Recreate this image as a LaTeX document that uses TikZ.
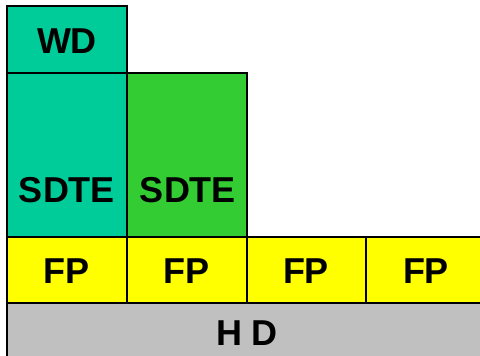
\documentclass[tikz,border=0pt]{standalone}
\usepackage{fontspec}
\setmainfont{Liberation Sans}
\definecolor{teal1}{HTML}{00CC99}
\definecolor{green1}{HTML}{33CC33}
\definecolor{yel1}{HTML}{FFFF00}
\definecolor{grey1}{HTML}{C0C0C0}
\begin{document}
\begin{tikzpicture}[x=1pt,y=-1pt,
  cell/.style={draw=black,line width=2.2pt},
  lbl/.style={font=\fontsize{36}{42}\selectfont\bfseries,inner sep=0pt,anchor=base}]
\useasboundingbox (0,0) rectangle (480,356);
\clip (0,0) rectangle (480,356);
\fill[white] (0,0) rectangle (480,356);
% HD
\draw[cell,fill=grey1] (7,303) rectangle (487,362);
% FP row
\draw[cell,fill=yel1] (7,237) rectangle (127,303);
\draw[cell,fill=yel1] (127,237) rectangle (247,303);
\draw[cell,fill=yel1] (247,237) rectangle (366,303);
\draw[cell,fill=yel1] (366,237) rectangle (487,303);
% SDTE
\draw[cell,fill=teal1] (7,73) rectangle (127,237);
\draw[cell,fill=green1] (127,73) rectangle (247,237);
% WD
\draw[cell,fill=teal1] (7,6) rectangle (127,73);
% labels
\node[lbl] (wd) at (67,53) {WD};
\node[lbl] (s1) at (67,202) {SDTE};
\node[lbl] (s2) at (188,202) {SDTE};
\node[lbl] (f1) at (67,283) {FP};
\node[lbl] (f2) at (187,283) {FP};
\node[lbl] (f3) at (306,283) {FP};
\node[lbl] (f4) at (426,283) {FP};
\node[lbl] (hd) at (247,345) {H D};
\end{tikzpicture}
\end{document}
